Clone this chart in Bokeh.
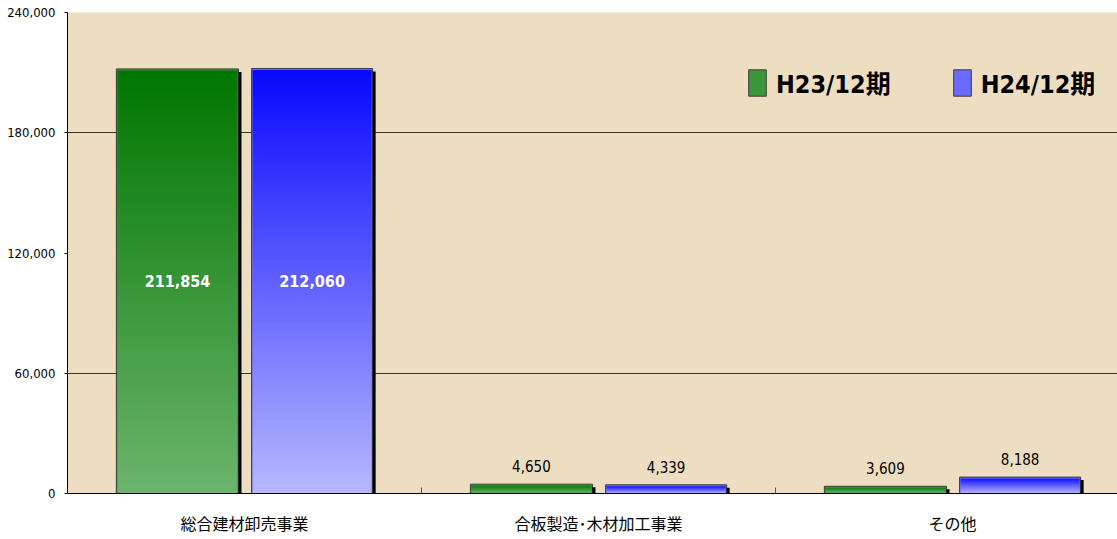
import numpy as np
from bokeh.plotting import figure
from bokeh.models import Range1d, FixedTicker, NumeralTickFormatter, Legend, LegendItem
from bokeh.core.properties import value
from bokeh.embed import file_html
from bokeh.resources import INLINE

# ---- data ----
categories = ["総合建材卸売事業", "合板製造･木材加工事業", "その他"]
series_names = ["H23/12期", "H24/12期"]
h23 = [211854, 4650, 3609]
h24 = [212060, 4339, 8188]
y_ticks = [0, 60000, 120000, 180000, 240000]
grid_ticks = [60000, 180000, 240000]

# ---- layout / style ----
W, H = 1117, 539
FRAME_L, FRAME_T, FRAME_B = 67, 12, 46
GROUP_PX = 354
frame_w = W - FRAME_L
frame_h = H - FRAME_T - FRAME_B
YMAX = 240000
px_x = 1.0 / GROUP_PX
px_y = YMAX / frame_h

NARROW = "'Liberation Sans Narrow', 'Arial Narrow', 'DejaVu Sans Condensed', 'Noto Sans CJK JP', sans-serif"
CJK = "'Noto Sans CJK JP', sans-serif"

p = figure(width=W, height=H, output_backend="svg", toolbar_location=None,
           x_range=Range1d(0, frame_w / GROUP_PX), y_range=Range1d(0, YMAX),
           min_border_left=FRAME_L, min_border_top=FRAME_T,
           min_border_bottom=FRAME_B, min_border_right=0)
p.background_fill_color = "#EEDEC1"
p.border_fill_color = "white"
p.outline_line_color = None

styles = [
    dict(left=0.138, right=0.483, top=(0, 118, 0), bot=(108, 180, 108), mid="#3a963a"),
    dict(left=0.520, right=0.862, top=(8, 8, 255), bot=(184, 184, 255), mid="#6a6aff"),
]
all_vals = [h23, h24]
idx = np.arange(len(categories))

def gradient(top, bot, n=256):
    t = np.linspace(0, 1, n)[:, None]
    img = np.empty((n, 1), dtype=np.uint32)
    v = img.view(dtype=np.uint8).reshape((n, 1, 4))
    for k in range(3):
        v[:, :, k] = np.round(bot[k] * (1 - t) + top[k] * t).astype(np.uint8)
    v[:, :, 3] = 255
    return img

bar_renderers = []
for vals, st in zip(all_vals, styles):
    vals = np.array(vals, dtype=float)
    left = idx + st["left"]
    right = idx + st["right"]
    r = p.vbar(x=(left + right) / 2, width=st["right"] - st["left"], top=vals, bottom=0,
               fill_color=st["mid"], line_color="#3c3c3c", line_width=1)
    bar_renderers.append(r)
    g = gradient(st["top"], st["bot"])
    p.image_rgba(image=[g] * len(vals), x=list(left + px_x), y=[0] * len(vals),
                 dw=[st["right"] - st["left"] - 2 * px_x] * len(vals),
                 dh=list(vals - 1.5 * px_y))
    p.segment(x0=right + 1.5 * px_x, y0=0, x1=right + 1.5 * px_x, y1=vals - 3 * px_y,
              line_color="black", line_width=3)
    xc = (left + right) / 2
    inside = vals > YMAX / 4
    if inside.any():
        p.text(x=xc[inside], y=vals[inside] / 2,
               text=[f"{int(v):,}" for v in vals[inside]],
               text_align="center", text_baseline="middle", text_color="white",
               text_font=value(NARROW), text_font_size="16px", text_font_style="bold")
    if (~inside).any():
        p.text(x=xc[~inside], y=vals[~inside],
               text=[f"{int(v):,}" for v in vals[~inside]], y_offset=-18,
               text_align="center", text_baseline="middle", text_color="black",
               text_font=value(NARROW), text_font_size="15px")

# axes
p.yaxis.ticker = FixedTicker(ticks=y_ticks)
p.yaxis.formatter = NumeralTickFormatter(format="0,0")
p.yaxis.major_tick_in = 0
p.yaxis.major_tick_out = 3
p.yaxis.minor_tick_line_color = None
p.yaxis.major_label_standoff = 9
p.yaxis.major_label_text_font = NARROW
p.yaxis.major_label_text_font_size = "13px"
p.yaxis.major_label_text_color = "black"
p.yaxis.axis_line_color = "black"

centers = list(idx + 0.5)
p.xaxis.ticker = FixedTicker(ticks=centers, minor_ticks=list(idx[1:].astype(float)))
p.xaxis.major_label_overrides = {c: lab for c, lab in zip(centers, categories)}
p.xaxis.major_tick_in = 0
p.xaxis.major_tick_out = 0
p.xaxis.minor_tick_in = 6
p.xaxis.minor_tick_out = 0
p.xaxis.minor_tick_line_color = "#555555"
p.xaxis.major_label_standoff = 17
p.xaxis.major_label_text_font = CJK
p.xaxis.major_label_text_font_size = "16px"
p.xaxis.major_label_text_color = "black"
p.xaxis.axis_line_color = "black"

p.xgrid.visible = False
p.ygrid.ticker = FixedTicker(ticks=grid_ticks)
p.ygrid.grid_line_color = "#333333"
p.ygrid.grid_line_width = 1

legend = Legend(items=[LegendItem(label=n, renderers=[r]) for n, r in zip(series_names, bar_renderers)],
                orientation="horizontal", location=(679, 393), padding=0, margin=0,
                spacing=60, label_standoff=8, glyph_width=22, glyph_height=33,
                label_height=33, label_text_font=NARROW, label_text_font_size="25px",
                label_text_font_style="bold", label_text_color="black",
                background_fill_alpha=0, border_line_color=None)
p.add_layout(legend)

open("out.html", "w").write(file_html(p, INLINE))
